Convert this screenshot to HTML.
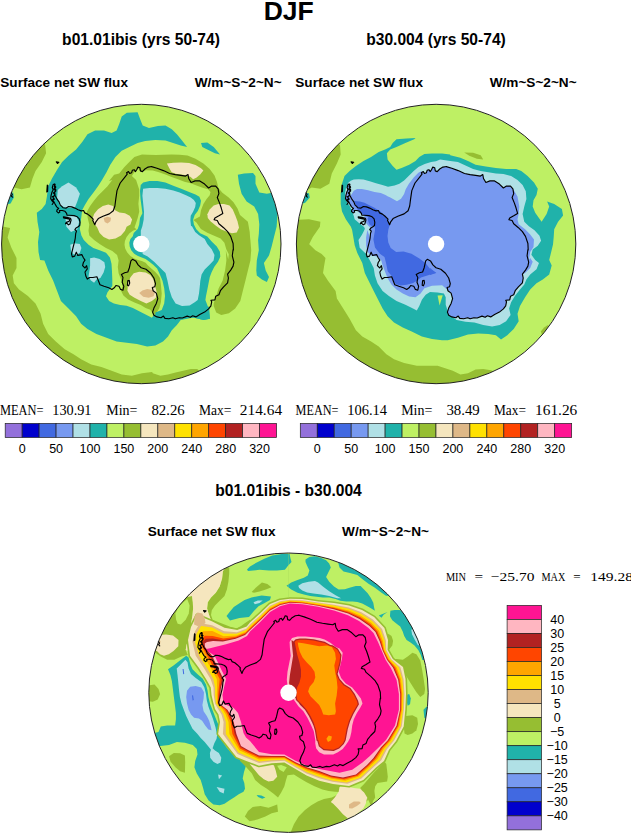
<!DOCTYPE html>
<html><head><meta charset="utf-8"><title>DJF</title>
<style>
html,body{margin:0;padding:0;background:#fff;}
svg{display:block;}
text{font-family:"Liberation Sans",sans-serif;fill:#000;}
.t1{font-weight:bold;font-size:26.5px;}
.t2{font-weight:bold;font-size:15.6px;}
.t3{font-weight:bold;font-size:13.6px;}
.lab{font-size:12.5px;}
.st{font-family:"Liberation Serif",serif;font-size:14.3px;}
.st2{font-family:"Liberation Serif",serif;font-size:12.3px;}
</style></head><body>
<svg width="631" height="834" viewBox="0 0 631 834">
<defs>
<clipPath id="clip1"><circle cx="141.3" cy="244.0" r="139.7"/></clipPath>
<clipPath id="clip2"><circle cx="436.1" cy="244.0" r="139.7"/></clipPath>
<clipPath id="clip3"><circle cx="288.5" cy="692.7" r="139.7"/></clipPath>
<path id="coast" d="M446.3,166.6 451.8,168.2 458.2,170.6 464.5,173.5 470.1,174.6 475.6,175.4 480.4,176.1 482.8,174.6 483.5,178.5 485.9,182.5 489.9,180.9 494.6,180.9 499.4,184.1 503.4,188.0 506.5,186.1 510.5,186.1 512.9,188.8 513.7,193.6 512.1,197.5 514.4,203.1 516.0,207.8 517.6,213.4 513.7,215.8 509.7,218.1 508.9,219.7 512.1,220.5 513.7,223.7 518.4,227.7 522.4,231.6 525.5,236.4 527.9,243.5 528.2,250.0 527.9,249.5 527.1,255.8 528.7,262.2 527.9,266.1 525.5,270.1 522.4,274.1 523.2,278.0 522.4,282.8 518.4,286.8 515.2,290.7 513.7,294.7 510.5,296.3 509.7,299.9 505.7,300.2 506.5,301.8 505.7,305.8 503.4,308.9 499.4,312.1 494.6,314.5 490.7,316.9 487.5,315.8 485.1,317.3 482.0,316.1 477.2,318.0 474.0,317.7 470.1,318.8 467.7,317.7 463.7,318.8 459.8,318.4 458.2,316.1 455.8,317.7 451.8,316.9 448.7,315.3 447.4,312.1 448.7,308.1 451.1,303.4 452.6,298.6 451.1,293.1 447.9,290.7 447.1,287.5 449.5,286.8 450.3,283.6 448.7,278.0 445.5,273.3 440.8,269.3 436.0,267.7 432.9,264.9 430.5,260.9 427.3,259.3 425.7,260.9 424.1,268.0 422.6,272.0 419.4,272.8 416.2,274.4 417.8,277.5 417.0,282.3 418.6,286.3 417.8,290.2 415.4,289.4 413.8,286.3 410.7,285.5 409.1,287.8 406.7,289.4 403.5,287.8 398.8,286.3 394.8,284.7 393.2,280.7 391.7,276.8 387.7,277.5 384.5,277.5 382.1,279.1 380.6,276.0 379.8,272.0 382.1,268.8 381.4,265.7 379.8,268.0 377.4,265.7 378.2,262.5 379.8,260.1 378.2,257.7 376.6,254.6 372.6,255.4 371.1,252.2 369.5,256.1 367.1,256.9 366.3,253.8 367.9,247.4 369.5,241.1 370.1,238.0 370.5,233.5 371.3,231.1 369.7,229.5 370.9,227.9 372.9,226.7 374.5,225.5 374.8,222.4 374.1,218.8 372.1,216.8 368.9,215.6 364.1,215.2 361.8,215.2 361.4,213.3 359.8,211.3 357.0,210.5 354.2,210.5 354.6,212.1 353.1,212.9 351.5,211.3 351.9,209.7 353.5,208.5 351.5,206.9 349.9,204.1 348.7,201.8 346.7,200.6 345.5,198.6 345.9,195.4 346.7,192.3 347.9,189.9 347.1,187.5 347.9,184.7 349.1,183.9 349.9,184.3 349.1,186.7 350.7,189.9 349.5,192.3 349.9,195.4 351.5,198.6 353.8,201.8 355.0,204.9 357.8,207.7 361.0,208.1 363.4,206.5 366.5,206.9 369.7,208.1 372.9,209.7 376.0,210.9 378.4,210.5 379.6,212.9 382.4,214.1 384.8,216.0 388.0,219.2 387.5,220.2 389.6,224.7 390.7,221.8 393.1,218.6 397.8,216.3 404.1,213.9 408.1,210.7 409.7,206.0 410.5,199.6 411.8,190.6 415.0,183.0 419.5,177.3 422.0,174.1 421.4,172.8 423.3,171.6 424.5,173.5 426.4,172.8 427.1,170.3 429.0,169.7 430.2,171.6 431.5,169.7 432.8,167.1 434.7,167.7 435.3,170.9 437.2,171.6 439.7,169.0 442.9,167.1 446.7,166.5 446.3,166.6M358.2,216.8 361.8,217.4 365.3,218.3 365.9,220.0 364.8,224.0 363.2,224.8 361.6,223.2 360.3,223.8 361.0,222.4 364.1,221.2 364.5,219.2 361.8,218.6 358.4,217.9 358.2,216.8M342.1,185.1 341.6,191.9 342.4,191.5 342.6,185.5 342.1,185.1M422.6,280.7 424.1,280.4 424.5,283.1 423.4,285.8 422.2,285.2 422.6,280.7M351.1,161.9 353.7,162.2 352.3,163.5 351.1,161.9M349.3,185.0 350.6,187.0 348.8,189.0 350.6,191.0 348.2,193.0 349.8,195.0 347.6,197.0 349.2,199.0 347.2,200.8M347.2,196.5 348.6,198.5 346.6,200.5 348.4,202.5 347.0,204.5M306.0,193.0 307.1,194.5 306.2,196.0 307.3,197.2" fill="none" stroke="#000" stroke-width="1.15" stroke-linejoin="round" stroke-linecap="round"/>
</defs>
<text x="288.7" y="19.8" class="t1" text-anchor="middle">DJF</text>
<text x="141" y="45.2" class="t2" text-anchor="middle">b01.01ibis (yrs 50-74)</text>
<text x="436" y="45.2" class="t2" text-anchor="middle">b30.004 (yrs 50-74)</text>
<text x="288.5" y="496.3" class="t2" text-anchor="middle">b01.01ibis - b30.004</text>
<text x="0.3" y="87" class="t3">Surface net SW flux</text>
<text x="281.6" y="87" class="t3" text-anchor="end">W/m~S~2~N~</text>
<text x="295.3" y="87" class="t3">Surface net SW flux</text>
<text x="576.6" y="87" class="t3" text-anchor="end">W/m~S~2~N~</text>
<text x="147.8" y="536" class="t3">Surface net SW flux</text>
<text x="429" y="536" class="t3" text-anchor="end">W/m~S~2~N~</text>
<text x="0.0" y="414.6" class="st" textLength="43.5" lengthAdjust="spacingAndGlyphs">MEAN=</text><text x="52.3" y="414.6" class="st" textLength="39.2" lengthAdjust="spacingAndGlyphs">130.91</text><text x="106.3" y="414.6" class="st" textLength="31.1" lengthAdjust="spacingAndGlyphs">Min=</text><text x="151.4" y="414.6" class="st" textLength="33.3" lengthAdjust="spacingAndGlyphs">82.26</text><text x="199.0" y="414.6" class="st" textLength="32.5" lengthAdjust="spacingAndGlyphs">Max=</text><text x="239.8" y="414.6" class="st" textLength="42.3" lengthAdjust="spacingAndGlyphs">214.64</text>
<text x="295.5" y="414.6" class="st" textLength="43.0" lengthAdjust="spacingAndGlyphs">MEAN=</text><text x="347.3" y="414.6" class="st" textLength="39.7" lengthAdjust="spacingAndGlyphs">106.14</text><text x="401.2" y="414.6" class="st" textLength="31.2" lengthAdjust="spacingAndGlyphs">Min=</text><text x="446.4" y="414.6" class="st" textLength="33.4" lengthAdjust="spacingAndGlyphs">38.49</text><text x="494.0" y="414.6" class="st" textLength="32.0" lengthAdjust="spacingAndGlyphs">Max=</text><text x="535.0" y="414.6" class="st" textLength="42.3" lengthAdjust="spacingAndGlyphs">161.26</text>
<text x="445.9" y="580.5" class="st2" textLength="20.1" lengthAdjust="spacingAndGlyphs">MIN</text><text x="474.4" y="580.5" class="st2" textLength="8.6" lengthAdjust="spacingAndGlyphs">=</text><text x="490.9" y="580.5" class="st2" textLength="43.5" lengthAdjust="spacingAndGlyphs">−25.70</text><text x="541.5" y="580.5" class="st2" textLength="23.9" lengthAdjust="spacingAndGlyphs">MAX</text><text x="573.2" y="580.5" class="st2" textLength="7.4" lengthAdjust="spacingAndGlyphs">=</text><text x="590.3" y="580.5" class="st2" textLength="42.7" lengthAdjust="spacingAndGlyphs">149.28</text>
<g clip-path="url(#clip1)"><circle cx="141.3" cy="244.0" r="139.7" fill="#BEF064"/><path d="M33.0,138.0 45.1,144.4 46.1,153.2 41.8,162.1 35.5,171.0 32.5,178.6 29.9,187.5 21.6,189.3 13.9,187.5 10.1,191.3 0.0,191.3 0.0,138.0Z" fill="#96BE32" /><path d="M0.0,225.5 3.8,226.8 10.1,228.1 7.6,237.6 11.4,247.7 16.5,257.9 16.5,268.0 12.7,275.6 13.9,283.2 19.0,289.6 27.9,295.9 35.5,303.5 40.6,313.7 43.1,323.8 48.2,334.0 55.8,341.6 64.7,349.2 73.5,354.2 81.1,359.3 91.3,364.4 101.4,366.9 111.6,370.7 121.7,374.5 131.9,375.8 142.0,373.3 152.1,372.0 152.8,373.3 160.4,375.8 168.0,374.5 175.6,372.5 183.2,370.7 190.9,369.0 197.2,369.0 206.1,377.1 230.0,400.0 -5.0,400.0 -5.0,225.0Z" fill="#96BE32" /><path d="M7.6,193.3 13.2,192.6 13.9,197.6 10.6,203.5 5.1,205.0Z" fill="#20B2AA" /><path d="M187.1,146.9 182.0,140.6 176.9,134.2 171.8,129.2 165.5,125.4 157.9,125.9 149.0,127.9 142.7,125.4 140.1,119.0 137.6,112.2 126.8,112.7 121.7,116.5 119.2,124.1 116.6,130.4 111.6,133.0 104.0,130.4 95.1,130.4 87.5,134.2 82.4,141.8 76.1,149.4 68.5,155.8 62.1,162.1 57.1,169.7 52.0,178.6 48.2,186.2 46.9,196.4 45.6,204.0 41.8,209.0 36.8,212.8 37.5,221.7 39.3,231.9 38.0,242.0 38.5,252.1 40.1,260.0 44.4,260.4 48.2,270.6 53.2,280.7 57.1,290.9 60.9,301.0 68.5,308.6 76.1,316.2 81.1,323.8 87.5,328.9 96.4,334.0 106.5,337.8 116.6,341.6 126.8,342.8 136.9,344.1 147.1,346.6 155.4,345.4 163.0,341.6 168.0,336.5 171.8,330.2 176.9,325.1 180.7,320.0 193.4,317.5 203.5,320.0 209.9,318.7 209.1,306.1 180.7,306.1 157.9,309.9 151.9,317.7 145.6,314.5 139.2,311.3 132.9,308.1 126.6,305.8 120.2,305.0 113.9,303.4 109.1,301.0 106.0,296.3 107.5,292.3 112.3,286.0 112.3,279.6 112.0,271.7 111.5,263.8 109.9,257.4 106.0,252.7 99.6,250.3 93.3,247.9 88.5,244.8 83.8,240.0 81.4,235.5 79.8,229.1 80.6,222.8 81.4,216.5 82.2,210.1 84.6,205.4 88.5,199.0 93.3,192.7 98.0,186.3 102.0,180.0 106.5,172.3 110.3,164.7 115.4,157.1 121.7,150.7 129.3,146.9 137.6,143.1 145.2,141.1 155.4,140.1 165.5,140.6 173.1,143.1 180.7,145.6Z" fill="#20B2AA" /><path d="M201.0,143.1 207.3,142.6 213.7,146.9 220.0,154.5 214.9,153.2 207.3,149.4 202.3,146.9Z" fill="#20B2AA" /><path d="M237.8,174.8 244.1,173.5 253.0,173.0 255.5,176.1 255.5,183.7 259.3,192.6 266.9,193.8 273.3,192.6 276.6,201.4 277.6,214.1 276.6,226.8 274.0,236.9 271.5,247.1 269.0,255.4 263.9,263.0 265.7,270.6 269.0,276.9 266.9,282.0 261.9,279.4 256.8,275.6 256.3,270.6 256.8,260.4 258.8,250.3 258.1,240.1 259.3,230.0 258.1,244.5 258.8,234.4 259.3,224.2 258.1,214.1 254.2,206.5 246.6,201.4 241.6,193.8 239.0,183.7Z" fill="#20B2AA" /><path d="M153.5,314.5 150.3,309.7 145.6,308.1 140.8,305.0 134.5,302.6 128.1,299.4 123.4,295.5 121.0,290.7 122.6,286.0 121.0,279.6 118.6,273.3 117.8,266.9 118.6,260.6 117.1,255.1 112.3,251.1 106.0,247.9 99.6,244.0 94.1,240.0 89.3,235.5 88.5,230.7 89.3,224.4 87.7,218.0 86.9,211.7 90.1,206.1 94.1,200.6 98.0,195.8 102.8,191.1 107.5,186.3 112.3,180.0 109.0,181.1 114.1,174.8 119.2,173.5 124.2,167.2 129.3,162.1 134.4,157.1 142.0,154.5 147.9,154.8 155.8,155.1 163.8,154.8 171.7,154.4 179.6,154.8 187.5,155.5 195.5,158.7 203.4,163.5 209.7,169.0 214.5,175.4 216.9,181.7 218.4,188.0 222.4,192.8 228.7,197.5 233.5,202.3 237.5,208.6 240.0,215.0 247.9,221.7 249.7,231.9 250.4,242.0 249.7,252.1 249.2,260.0 249.2,230.0 250.4,240.1 251.2,250.3 250.4,260.4 247.9,270.6 245.4,280.7 242.8,290.9 240.3,301.0 235.2,308.6 228.9,313.2 221.3,314.9 216.2,312.4 213.7,306.1Z" fill="#96BE32" /><path d="M213.7,306.1 213.7,303.5 216.2,295.9 218.7,288.3 222.6,280.7 225.1,270.6 226.4,260.4 225.8,250.3 228.2,259.3 228.8,254.2 226.3,249.2 224.4,242.8 220.6,238.4 213.0,235.2 207.3,232.7 200.9,228.9 196.5,222.5 193.3,220.0 199.9,216.6 201.0,210.2 203.4,203.9 206.6,199.1 209.7,195.2 210.5,192.0 208.1,189.3 203.4,188.0 197.1,185.7 190.7,183.3 184.4,181.7 178.0,179.3 171.7,176.9 165.4,174.6 159.0,172.2 152.7,170.6 146.3,170.3 140.0,171.4 138.2,168.5 134.4,172.3 131.9,176.1 136.1,180.0 139.2,189.5 139.2,195.8 138.4,203.8 139.2,211.7 137.7,218.0 136.1,222.8 134.5,227.5 136.6,229.5 133.3,230.5 129.5,233.3 126.6,237.1 124.9,240.9 124.5,244.7 125.2,248.5 127.1,252.3 130.4,256.1 134.2,258.5 138.0,259.9 141.8,260.9 145.6,262.8 148.0,265.6 151.3,268.5 155.1,271.8 158.0,275.1 160.0,278.0 160.9,284.5 161.7,293.4 160.9,302.3 159.2,308.6 156.6,312.4Z" fill="#BEF064" /><path d="M140.0,185.7 143.2,182.5 149.5,180.9 157.4,180.9 165.4,182.5 173.3,185.7 181.2,188.8 189.1,192.0 195.5,194.4 199.4,196.8 201.0,200.7 200.2,205.5 197.8,211.0 194.7,215.0 193.1,219.7 193.9,224.5 196.3,229.2 200.2,233.2 207.3,236.5 211.7,241.6 216.8,246.6 219.9,251.7 220.3,256.8 218.0,261.8 214.2,266.9 211.7,272.0 209.8,277.1 208.5,283.4 207.3,289.7 206.0,296.1 205.4,300.0 208.6,308.6 209.9,318.7 203.5,320.0 193.4,317.5 180.7,318.7 170.6,319.3 163.0,317.5 155.4,313.7 155.4,312.4 161.7,309.9 164.2,303.5 165.0,295.9 164.2,288.3 162.5,280.7 159.2,273.1 157.1,268.5 153.2,264.7 149.4,261.8 145.6,259.0 141.8,257.6 138.0,256.1 134.2,253.8 131.4,250.4 129.7,246.6 129.3,242.8 130.4,239.0 132.8,236.2 133.7,233.1 137.7,229.1 139.2,224.4 140.0,218.0 142.4,213.3 141.6,206.9 140.5,199.0 140.0,191.1 140.8,184.8Z" fill="#20B2AA" /><path d="M143.2,188.8 149.5,188.0 157.4,188.0 165.4,188.8 173.3,190.4 179.6,192.5 186.0,195.2 190.7,197.5 193.9,199.9 195.8,203.1 195.2,207.1 193.1,211.8 190.7,215.8 190.4,220.5 191.0,226.1 192.0,226.3 195.2,232.0 199.0,235.2 204.7,239.0 207.3,244.1 211.7,249.2 214.5,254.9 213.6,260.6 209.8,264.4 204.7,269.4 201.6,274.5 200.3,280.9 199.7,287.2 199.0,293.5 197.7,300.0 194.7,302.3 189.6,305.6 182.0,306.1 175.6,303.5 171.8,297.2 169.3,289.6 167.5,280.7 165.5,273.1 160.4,268.0 154.1,261.7 147.7,256.6 142.7,254.1 140.9,243.9 140.8,230.7 142.4,226.0 143.7,219.6 144.0,211.7 143.2,203.8 142.4,195.8 143.2,187.9Z" fill="#B0E0E6" /><path d="M92.5,218.8 94.1,214.1 98.0,209.3 102.8,206.1 108.3,204.6 113.1,206.1 114.7,210.1 119.4,212.5 125.0,213.3 129.7,215.7 132.1,219.6 130.5,224.4 126.6,226.8 125.0,230.7 121.0,235.5 115.5,238.6 109.1,239.4 103.6,237.1 99.6,233.1 97.2,227.5 94.1,223.6Z" fill="#F5E6BE" /><path d="M103.6,218.0 107.5,216.8 111.0,217.7 110.4,221.2 107.5,223.6 104.7,222.0Z" fill="#DEB887" /><path d="M127.4,290.7 128.1,282.8 130.5,277.2 133.7,273.3 139.2,271.7 145.6,272.5 150.3,274.9 153.5,279.6 155.1,286.0 156.7,292.3 155.9,297.8 151.9,301.0 146.4,303.4 140.8,301.0 134.5,297.8 129.7,294.7Z" fill="#F5E6BE" /><path d="M139.2,293.1 142.4,290.4 147.2,289.1 152.7,289.9 154.8,293.1 153.5,296.3 148.7,297.8 143.2,296.7Z" fill="#DEB887" /><path d="M166.9,163.5 173.3,162.7 181.2,162.4 189.1,163.0 195.5,165.1 201.0,168.2 203.4,170.6 200.2,174.6 196.3,177.7 193.1,179.3 190.7,176.9 187.5,175.4 181.2,174.6 175.7,173.8 171.7,172.2 169.3,168.2Z" fill="#F5E6BE" /><path d="M207.4,214.2 209.7,209.4 213.7,205.5 218.4,203.9 224.0,203.9 229.5,205.5 232.7,209.4 235.1,215.0 237.5,221.3 239.0,227.7 236.7,232.4 231.9,233.2 226.4,231.6 220.8,229.2 215.3,225.3 210.5,221.3 207.8,218.1Z" fill="#F5E6BE" /><path d="M62.1,186.2 68.5,182.4 76.1,187.5 79.9,193.8 77.3,201.4 74.8,207.8 65.9,207.8 59.6,205.2 57.1,197.6 57.8,190.0Z" fill="#B0E0E6" /><path d="M65.4,216.6 76.1,216.1 79.1,221.7 77.3,229.3 71.0,231.9 66.4,226.8Z" fill="#B0E0E6" /><path d="M70.3,244.8 74.3,243.2 79.8,244.0 81.4,247.9 79.8,252.7 76.6,255.1 73.5,254.3 71.1,251.1Z" fill="#B0E0E6" /><path d="M90.1,258.2 94.1,257.4 99.6,259.0 104.4,262.2 105.2,266.9 103.6,272.5 100.4,278.0 96.5,279.6 94.1,282.8 90.9,280.4 88.5,276.5 89.3,271.7 90.1,265.4Z" fill="#B0E0E6" /></g><use href="#coast" transform="translate(-294.8,0)"/><circle cx="141.3" cy="244.0" r="8.2" fill="#fff"/><circle cx="141.3" cy="244.0" r="139.7" fill="none" stroke="#222" stroke-width="1"/>
<g clip-path="url(#clip2)"><circle cx="436.1" cy="244.0" r="139.7" fill="#BEF064"/><path d="M328.0,138.0 340.0,145.1 340.7,154.5 336.9,163.4 331.8,173.5 329.3,183.7 320.4,188.7 311.6,187.5 305.2,191.3 290.0,191.3 290.0,138.0Z" fill="#96BE32" /><path d="M290.0,219.2 298.9,219.7 309.0,219.2 320.4,221.7 319.9,226.8 312.8,236.9 309.0,244.5 309.0,243.9 315.4,250.3 321.7,254.1 325.5,257.9 324.2,265.5 323.0,273.1 328.0,280.7 335.6,290.9 336.9,298.5 343.2,308.6 349.6,318.7 355.9,330.2 362.3,336.5 371.1,341.6 378.7,346.6 386.4,354.2 394.0,359.3 404.1,363.1 416.8,365.7 429.5,365.7 437.6,365.7 445.2,368.2 452.8,370.7 460.4,374.5 468.0,373.3 475.6,369.5 483.2,369.0 490.9,370.2 496.4,372.5 506.1,382.1 520.0,400.0 290.0,400.0 280.0,219.0Z" fill="#96BE32" /><path d="M464.2,152.5 473.1,152.7 480.7,155.3 483.2,159.6 476.9,158.8 469.3,155.8Z" fill="#96BE32" /><path d="M540.8,331.4 544.1,327.6 547.9,325.1 551.7,331.4 542.8,336.5Z" fill="#96BE32" /><path d="M302.7,192.6 309.0,193.3 309.8,197.6 305.2,202.7 300.1,204.5Z" fill="#20B2AA" /><path d="M350.9,226.8 345.8,219.2 342.0,211.6 340.7,204.0 340.7,193.8 342.0,183.7 344.5,176.1 349.6,171.0 355.9,165.9 363.5,160.9 371.1,157.1 378.7,152.0 385.1,149.4 390.2,146.9 392.7,143.1 396.5,139.3 406.6,138.5 415.5,138.0 414.2,139.3 405.4,143.1 396.5,146.9 390.2,149.4 386.9,153.2 387.6,159.6 392.7,165.9 396.5,169.7 401.6,168.0 409.2,164.7 415.5,160.9 419.3,157.1 424.4,154.0 432.0,153.5 442.1,153.5 450.0,154.5 450.3,155.3 460.4,157.8 468.0,160.9 475.6,164.7 485.8,166.4 495.9,168.0 506.1,169.0 516.2,169.0 521.3,171.0 527.6,176.1 534.0,182.4 537.8,188.7 536.5,195.1 533.5,200.2 532.7,206.5 535.2,212.8 541.6,221.7 546.6,214.1 549.2,206.5 547.1,201.4 554.2,204.0 561.9,209.0 563.1,215.4 558.1,221.7 554.2,229.3 553.7,236.9 553.0,244.5 551.2,252.1 549.2,260.0 551.7,265.5 549.2,274.4 542.8,279.4 536.5,283.2 530.2,289.6 525.1,297.2 520.0,306.1 517.5,313.7 518.7,321.3 513.7,328.9 507.3,335.2 501.0,339.5 495.9,335.2 488.3,334.0 478.2,333.5 468.0,334.5 457.9,337.8 447.7,340.3 442.1,340.3 432.0,339.0 421.9,336.5 411.7,331.4 402.8,327.6 394.0,322.6 387.6,316.2 382.6,308.6 377.5,298.5 373.7,290.9 368.6,280.7 364.8,273.1 362.3,263.0 357.2,252.8 354.7,245.2 353.4,237.6 352.1,230.0Z" fill="#20B2AA" /><path d="M361.8,235.1 363.4,231.9 364.9,228.7 364.1,227.1 361.0,224.8 357.8,222.0 354.6,219.2 353.8,216.0 352.3,212.1 350.7,208.1 349.1,204.9 346.7,201.8 345.1,198.6 345.0,193.8 345.9,188.3 348.3,182.8 350.7,180.8 353.8,179.6 358.6,179.2 363.4,179.6 369.7,181.2 376.0,183.2 382.4,185.1 388.0,186.7 394.6,185.4 399.4,183.8 404.1,180.6 408.9,175.8 413.7,171.1 418.4,167.1 424.7,164.0 431.1,161.9 436.0,161.3 440.1,159.6 450.3,160.9 457.9,162.1 465.5,165.4 473.1,169.0 480.7,171.0 488.3,172.3 495.9,173.5 503.5,174.0 511.1,176.1 517.5,179.9 522.6,184.9 525.8,191.3 526.4,198.9 524.3,206.5 522.6,214.1 524.3,221.7 528.9,226.3 534.5,230.3 539.5,235.7 541.1,240.7 537.8,245.8 532.7,249.6 531.4,254.7 535.2,260.0 539.0,263.0 536.5,269.3 530.2,274.4 526.4,279.4 524.3,284.5 520.0,289.6 514.9,295.9 511.1,302.3 509.1,308.6 510.6,314.9 506.1,321.3 499.7,325.1 492.1,326.4 483.2,325.1 474.4,322.6 465.5,321.8 456.6,320.0 451.6,316.2 447.7,311.1 445.7,304.8 445.7,297.2 443.9,293.4 437.6,292.4 430.0,291.9 425.7,294.7 421.9,299.7 419.3,306.1 416.8,310.6 413.0,308.6 405.4,304.8 396.5,301.0 388.9,295.9 382.6,290.9 377.5,283.2 374.9,275.6 373.7,268.0 369.9,260.4 366.1,254.1 359.7,247.7 358.5,240.1Z" fill="#B0E0E6" /><path d="M370.1,238.0 370.5,233.5 371.3,231.1 369.7,229.5 370.9,227.9 372.9,226.7 374.5,225.5 374.8,222.4 374.1,218.8 372.1,216.8 368.9,215.6 364.1,215.2 361.8,215.2 361.4,213.3 359.8,211.3 357.0,210.5 354.2,210.5 354.6,212.1 353.1,212.9 351.5,211.3 351.9,209.7 353.5,208.5 351.5,206.9 349.9,204.1 348.7,201.8 346.7,200.6 345.5,198.6 345.9,195.4 346.7,192.3 347.9,189.9 347.1,187.5 347.9,184.7 349.1,183.9 349.9,184.3 349.1,186.7 350.7,189.9 349.5,192.3 349.9,195.4 351.1,195.0 353.8,190.7 357.0,189.1 361.8,189.1 368.1,190.3 374.5,191.9 380.8,193.1 385.5,195.0 388.0,196.6 389.9,197.2 397.0,201.2 401.0,198.8 404.1,194.1 405.7,189.3 408.9,183.8 413.7,177.4 418.4,172.7 421.6,171.1 422.0,174.1 421.4,172.8 423.3,171.6 424.5,173.5 426.4,172.8 427.1,170.3 429.0,169.7 430.2,171.6 431.5,169.7 432.8,167.1 434.7,167.7 435.3,170.9 437.2,171.6 439.7,169.0 442.9,167.1 446.7,166.5 446.3,166.6 451.8,168.2 458.2,170.6 464.5,173.5 470.1,174.6 475.6,175.4 480.4,176.1 482.8,174.6 483.5,178.5 485.9,182.5 489.9,180.9 494.6,180.9 499.4,184.1 503.4,188.0 506.5,186.1 510.5,186.1 512.9,188.8 517.5,196.4 519.3,206.5 518.7,214.1 517.5,219.2 518.7,224.2 525.1,229.3 530.2,234.4 534.0,239.5 533.5,247.1 530.2,252.1 528.9,260.0 530.2,257.9 532.7,261.7 530.2,268.0 525.1,273.1 522.4,274.1 523.2,278.0 522.4,282.8 518.4,286.8 515.2,290.7 513.7,294.7 510.5,296.3 509.7,299.9 505.7,300.2 506.5,301.8 505.7,305.8 503.4,308.9 499.4,312.1 494.6,314.5 490.7,316.9 487.5,315.8 485.1,317.3 482.0,316.1 477.2,318.0 474.0,317.7 470.1,318.8 467.7,317.7 463.7,318.8 459.8,318.4 458.2,316.1 455.8,317.7 451.8,316.9 448.7,315.3 447.4,312.1 448.7,308.1 451.1,303.4 452.6,298.6 451.1,293.1 442.1,285.3 432.0,285.8 424.4,288.3 420.6,293.4 415.5,297.2 409.2,296.4 402.8,293.4 396.5,289.6 391.4,284.5 387.6,278.2 385.1,271.8 382.6,265.5 381.3,260.4 377.5,256.6 371.1,255.4 367.3,251.6 366.1,245.2 366.1,237.6 367.3,230.0Z" fill="#7799F0" /><path d="M364.1,215.6 368.9,215.9 372.9,216.8 374.8,220.0 374.8,225.5 372.9,227.0 370.5,227.8 368.1,225.5 365.7,222.4 364.9,219.2Z" fill="#7799F0" /><path d="M354.2,200.9 359.8,201.5 364.5,202.8 369.3,205.2 374.0,207.5 378.0,209.9 380.4,211.5 383.5,214.7 387.5,219.4 389.9,224.2 388.3,229.7 387.5,236.1 388.3,242.4 390.7,248.0 396.2,251.9 403.5,251.4 411.5,253.8 419.4,258.5 425.7,263.3 430.5,269.6 436.0,272.8 430.5,274.4 425.7,276.0 421.0,277.5 417.0,280.7 413.1,283.1 406.7,284.7 400.4,285.5 395.6,283.9 393.2,280.7 391.7,276.0 387.7,271.2 386.1,263.3 384.5,256.9 379.8,253.8 375.0,247.4 373.4,239.5 375.0,230.0 374.5,223.4 373.2,219.4 370.1,217.4 366.1,216.3 359.0,212.6 356.6,207.5Z" fill="#4169E1" /><path d="M368.5,217.0 372.1,217.4 374.1,219.2 374.6,222.4 374.1,225.5 372.1,226.3 369.7,224.8 368.3,221.6 367.6,218.8Z" fill="#4169E1" /><path d="M430.0,268.0 436.3,273.1 430.0,275.1Z" fill="#4169E1" /><path d="M437.6,295.4 442.7,295.2 439.6,305.6Z" fill="#BEF064" /></g><use href="#coast" transform="translate(0,0)"/><circle cx="436.1" cy="244.0" r="8.2" fill="#fff"/><circle cx="436.1" cy="244.0" r="139.7" fill="none" stroke="#222" stroke-width="1"/>
<g clip-path="url(#clip3)"><circle cx="288.5" cy="692.7" r="139.7" fill="#BEF064"/><path d="M247.0,569.5 250.0,566.6 256.3,562.7 264.3,558.7 272.2,555.5 281.7,554.0 289.6,554.0 290.4,557.9 291.5,561.9 288.0,565.8 284.9,569.8 276.9,570.6 269.0,570.6 259.5,569.8 253.2,570.6 248.0,571.0Z" fill="#20B2AA" /><path d="M305.5,559.5 309.4,557.1 315.0,556.3 321.3,557.9 326.1,560.3 329.2,563.5 330.8,567.4 328.4,572.2 326.1,576.9 329.2,581.7 334.0,586.5 338.7,589.6 344.8,589.2 349.5,587.7 355.8,586.1 360.6,586.1 363.8,589.3 367.7,593.3 370.9,598.0 373.3,602.8 374.1,607.5 374.9,610.7 370.9,608.3 366.9,606.0 362.2,603.6 357.4,602.0 352.7,601.5 346.3,601.5 340.3,600.7 335.6,599.1 329.2,597.5 322.9,597.5 316.6,596.8 310.2,596.0 303.9,594.4 297.5,592.8 291.2,589.6 286.5,585.7 291.2,582.5 297.5,580.1 303.9,577.7 307.8,575.4 309.4,570.6 307.1,565.8 305.5,561.9Z" fill="#20B2AA" /><path d="M298.3,585.7 302.3,583.3 308.6,581.7 315.0,580.9 318.1,582.5 322.9,586.5 329.2,591.2 335.6,595.2 341.1,598.3 337.2,598.3 329.2,596.0 321.3,594.4 313.4,593.6 307.1,592.5 302.3,590.4 299.1,588.0Z" fill="#B0E0E6" /><path d="M338.0,562.0 339.5,567.4 343.5,571.4 350.0,573.0 357.4,575.1 362.2,579.0 368.5,583.8 374.9,587.7 381.2,592.5 386.0,595.7 392.0,596.0 380.0,580.0 360.0,565.0 340.0,555.0Z" fill="#20B2AA" /><path d="M390.4,610.7 394.7,609.9 399.4,609.9 405.0,612.0 425.0,640.0 430.0,660.0 422.4,660.0 420.8,655.1 418.4,650.3 414.5,645.6 410.5,642.4 406.6,640.0 404.2,636.1 402.6,631.3 400.2,626.6 396.3,623.4 392.3,620.2 389.9,616.3Z" fill="#20B2AA" /><path d="M411.3,629.7 412.1,634.5 414.5,639.2 417.7,644.8 421.0,647.0 419.0,636.0 414.5,627.5Z" fill="#B0E0E6" /><path d="M378.8,615.5 387.5,612.0 383.6,614.7 381.5,617.8Z" fill="#20B2AA" /><path d="M226.5,616.0 230.0,611.4 233.8,607.0 239.5,603.2 244.6,600.0 251.5,597.5 261.6,595.5 271.0,596.5 270.0,600.0 264.2,603.2 258.5,606.3 253.5,611.4 249.0,617.1 239.5,618.1 230.0,620.6Z" fill="#20B2AA" /><path d="M253.5,602.3 257.9,600.4 262.7,600.4 259.5,603.1 254.8,604.2Z" fill="#B0E0E6" /><path d="M186.2,655.8 188.6,657.4 190.2,663.8 192.5,669.3 197.3,674.1 202.8,678.8 206.0,684.4 207.6,690.7 208.4,697.1 210.0,703.4 212.4,709.7 215.5,717.7 218.7,725.6 221.1,733.5 222.1,740.3 226.1,746.7 230.8,752.2 236.4,757.0 241.9,760.1 246.5,763.5 245.5,767.3 244.0,772.0 242.7,778.4 244.3,783.1 245.0,788.7 243.5,791.8 238.7,794.2 234.0,797.4 229.2,800.6 224.5,803.7 219.7,805.3 213.4,804.5 208.6,800.6 204.7,794.2 203.1,787.9 200.7,780.0 196.8,773.6 194.4,767.3 195.2,760.9 197.5,754.6 196.8,749.1 192.8,745.1 184.9,742.7 176.9,741.9 169.0,745.1 160.3,745.9 150.0,748.0 146.0,735.0 158.5,731.9 160.8,726.4 167.2,725.6 175.1,725.6 175.9,719.2 175.9,712.9 175.1,706.6 174.3,700.2 173.5,693.9 172.7,687.5 171.9,681.2 170.4,674.9 168.0,669.3 173.5,665.4 179.9,660.6Z" fill="#20B2AA" /><path d="M176.7,668.5 181.5,663.8 185.4,659.8 187.5,662.2 188.6,668.5 191.0,674.1 195.7,678.0 201.3,682.0 204.4,687.5 206.0,693.9 206.8,700.2 208.4,706.6 210.8,712.9 213.1,719.2 215.5,727.2 217.1,735.1 216.6,738.8 214.2,743.5 212.6,748.3 215.0,750.6 218.9,753.0 221.3,757.8 220.5,762.5 217.4,764.1 213.4,761.7 210.2,757.8 209.9,753.0 211.0,749.8 208.6,746.7 204.7,741.9 200.7,738.0 197.5,734.0 192.5,728.7 189.4,722.4 186.2,716.1 183.8,709.7 181.5,703.4 179.9,697.1 179.1,690.7 178.3,682.8 177.5,674.9Z" fill="#B0E0E6" /><path d="M187.0,690.7 190.2,686.8 195.7,686.0 201.3,687.5 204.0,692.3 203.6,698.6 202.4,705.0 203.6,711.3 206.8,716.1 209.2,720.8 210.8,726.4 211.6,730.3 208.4,729.5 205.2,725.6 202.1,720.8 198.9,718.4 194.1,717.7 191.0,714.5 188.6,709.7 187.0,703.4 186.2,697.1Z" fill="#7799F0" /><path d="M182.6,669.0 183.6,669.0 184.2,674.0 183.2,674.3Z" fill="#4169E1" /><path d="M192.0,695.5 193.0,695.3 193.8,700.0 192.6,700.4Z" fill="#4169E1" /><path d="M218.1,774.4 222.1,775.5 218.9,779.2Z" fill="#B0E0E6" /><path d="M216.6,787.1 224.5,788.7 223.7,793.4 219.7,791.8Z" fill="#B0E0E6" /><path d="M256.6,795.0 261.4,795.5 265.4,797.4 262.2,798.7 258.2,797.1Z" fill="#20B2AA" /><path d="M406.9,694.7 409.2,693.9 410.8,698.6 410.0,704.2 407.7,705.8 406.5,701.0Z" fill="#20B2AA" /><path d="M423.5,709.7 426.7,706.6 430.0,706.0 430.0,720.0 427.0,719.2 424.3,717.7Z" fill="#20B2AA" /><path d="M222.9,565.0 229.2,568.0 229.2,573.8 228.4,581.7 226.9,589.6 224.5,596.0 219.7,600.7 215.0,605.5 211.8,610.2 211.0,615.0 212.6,619.7 218.1,622.1 224.5,624.5 230.8,626.9 236.4,628.4 241.1,626.1 245.1,622.9 250.0,619.7 250.0,627.0 246.7,628.5 237.2,632.0 224.5,629.7 211.8,623.3 210.2,618.1 208.6,613.4 207.1,608.6 207.8,602.3 211.0,597.5 215.8,592.8 219.7,586.5 222.1,578.5 222.9,571.4Z" fill="#96BE32" /><path d="M188.0,596.8 192.0,596.0 192.8,602.3 193.1,608.6 192.5,615.0 191.5,621.3 190.9,627.7 190.4,634.0 188.0,640.3 186.5,645.1 185.7,650.0 187.8,655.1 181.5,656.6 174.3,659.8 167.2,659.8 160.8,656.6 155.3,652.7 148.0,655.0 140.0,620.0 180.0,590.0Z" fill="#96BE32" /><path d="M176.1,619.7 175.4,613.4 178.5,607.1 183.3,602.3 187.2,599.1 189.6,605.5 188.8,613.4 185.7,619.7 180.9,624.5 177.7,623.7Z" fill="#BEF064" /><path d="M155.0,636.0 159.5,635.0 166.0,634.5 173.0,635.5 178.5,640.0 178.3,646.3 173.5,651.1 168.8,654.3 164.0,655.8 160.1,654.3 156.9,651.1 150.0,650.0 148.0,638.0Z" fill="#F5E6BE" /><path d="M158.5,640.5 160.5,641.0 160.0,644.5 158.0,644.0Z" fill="#DEB887" /><path d="M146.0,686.0 154.5,684.4 158.5,689.1 160.1,693.9 157.7,699.4 152.9,701.8 146.0,701.0Z" fill="#96BE32" /><path d="M169.0,756.2 173.8,753.0 180.1,753.3 184.9,755.4 185.2,762.5 184.9,772.8 180.1,771.2 175.4,767.3 170.6,761.7Z" fill="#96BE32" /><path d="M240.0,755.0 240.0,760.9 246.3,767.3 251.9,773.6 255.1,780.0 260.6,784.7 266.9,788.7 273.3,793.4 278.0,797.4 281.2,792.6 284.4,786.3 286.0,780.0 287.5,775.2 293.9,774.4 300.2,778.4 306.6,782.3 314.5,786.3 322.4,789.5 328.7,791.1 335.1,791.8 340.0,792.0 340.0,770.0 290.0,750.0Z" fill="#96BE32" /><path d="M277.2,765.7 281.2,764.9 286.8,767.3 283.6,772.0 279.6,769.7Z" fill="#BEF064" /><path d="M244.8,816.4 248.0,811.0 252.7,806.9 260.6,806.1 268.5,807.7 277.2,804.5 278.0,811.7 271.7,813.2 265.4,816.4 257.4,819.6 249.5,821.2Z" fill="#96BE32" /><path d="M290.7,836.0 290.7,832.3 293.9,824.3 298.6,816.4 305.0,810.1 311.3,805.3 317.7,801.4 324.0,799.0 331.9,797.4 338.3,794.2 340.0,793.0 340.0,788.0 345.0,788.0 365.0,790.0 368.0,800.0 346.6,818.8 339.5,822.0 332.0,828.0 320.0,840.0Z" fill="#96BE32" /><path d="M360.1,787.9 364.1,783.9 368.8,778.4 374.4,772.0 380.7,765.7 384.7,761.7 386.3,764.1 387.1,770.5 387.8,776.8 387.1,781.5 382.3,782.3 377.5,783.1 375.2,786.3 374.4,791.1 375.2,797.4 372.8,801.4 372.0,808.0 367.2,797.4 364.1,792.6Z" fill="#96BE32" /><path d="M390.2,659.8 396.6,659.0 402.9,659.8 407.7,656.6 412.4,652.7 416.4,654.3 420.3,660.6 421.9,668.5 423.5,678.0 425.1,689.1 424.3,693.9 420.3,697.1 416.4,692.3 412.4,686.0 408.4,679.6 404.5,673.3 399.7,667.7 393.4,663.8Z" fill="#96BE32" /><path d="M406.1,716.1 412.4,715.3 417.2,717.7 418.0,724.0 416.4,730.3 412.4,733.5 407.7,735.1 404.5,733.5 403.7,725.6 404.5,719.2Z" fill="#96BE32" /><path d="M388.3,633.7 391.5,636.1 393.1,640.8 392.3,645.6 389.1,649.5 387.5,653.5 385.0,648.0 386.0,640.0Z" fill="#96BE32" /><path d="M251.6,592.0 256.3,587.2 261.9,582.5 267.4,584.1 271.4,587.2 265.8,589.6 259.5,591.5 254.0,592.8Z" fill="#96BE32" /><path d="M188.0,596.8 180.0,590.0 215.0,555.0 224.5,569.0 222.9,571.4 222.1,578.5 219.7,586.5 215.8,592.8 211.0,597.5 207.8,602.3 207.1,608.6 208.6,613.4 210.2,618.1 211.8,621.3 205.0,625.0 200.0,640.0 200.0,655.0 185.7,650.0 186.5,645.1 188.0,640.3 190.4,634.0 190.9,627.7 191.5,621.3 192.5,615.0 193.1,608.6 192.8,602.3 192.0,596.0Z" fill="#F5E6BE" /><path d="M246.3,759.4 251.1,765.7 255.1,770.5 259.0,775.2 263.8,779.2 268.5,781.5 273.3,780.8 277.2,776.8 275.7,770.5 274.1,765.7 271.7,763.3 265.0,760.0 255.0,755.0Z" fill="#F5E6BE" /><path d="M339.5,787.1 345.8,786.3 353.8,787.9 360.1,788.7 364.1,792.6 367.2,797.4 365.7,803.7 363.3,808.5 357.7,813.2 352.2,817.2 347.4,818.0 342.7,814.0 337.9,808.5 333.2,803.7 330.8,802.1 334.8,797.4 338.7,791.8Z" fill="#F5E6BE" /><path d="M349.0,804.5 353.8,801.4 359.3,801.4 360.9,802.9 356.9,806.1 352.2,808.5 349.0,808.2Z" fill="#DEB887" /><path d="M290.0,597.2 289.8,597.2 279.8,598.4 279.4,598.5 269.4,602.5 268.9,602.8 258.9,612.4 248.9,621.4 248.8,621.6 245.8,625.1 237.1,628.3 225.0,626.2 212.5,619.9 212.4,619.8 197.6,613.5 197.0,613.4 196.4,613.5 195.9,613.8 195.6,614.3 189.6,626.3 189.4,626.6 186.4,639.6 186.4,640.2 188.4,656.0 188.7,656.7 197.7,668.9 204.6,679.8 209.2,688.0 209.9,695.1 209.9,695.4 211.9,703.8 212.0,703.8 213.5,709.4 213.7,709.9 217.0,715.1 218.4,722.0 216.5,733.7 216.6,734.4 216.8,735.0 235.1,758.0 235.8,758.5 245.7,762.4 245.7,762.4 258.4,767.2 259.3,767.3 271.9,764.9 284.0,764.1 305.8,776.9 306.0,777.0 318.6,782.3 318.8,782.4 332.6,785.6 332.8,785.6 348.8,787.6 349.6,787.5 363.9,781.5 364.4,781.1 377.1,768.7 385.0,762.2 385.5,761.7 390.4,750.6 397.3,742.0 397.4,741.8 405.1,727.3 405.3,726.7 406.9,709.9 406.9,709.8 407.6,694.0 407.6,693.8 407.1,678.9 407.1,678.7 404.6,666.7 404.4,666.2 404.0,665.7 394.0,657.9 389.2,649.6 389.6,640.1 389.5,639.5 385.9,627.5 385.6,626.9 375.3,616.0 374.9,615.7 362.8,608.6 362.5,608.5 349.5,604.0 349.3,603.9 334.3,601.5 334.2,601.5 318.3,599.9 302.5,597.5 302.3,597.5 290.0,597.2Z" fill="#96BE32" /><path d="M290.0,598.8 302.3,599.1 318.1,601.5 334.0,603.1 349.0,605.5 362.0,610.0 374.1,617.1 384.4,628.0 388.0,640.0 387.6,650.0 392.8,659.0 403.0,667.0 405.5,679.0 406.0,693.9 405.3,709.7 403.7,726.5 396.0,741.0 389.0,749.8 384.0,761.0 376.0,767.5 363.3,780.0 349.0,786.0 333.0,784.0 319.2,780.8 306.6,775.5 295.5,769.0 284.4,762.5 271.7,763.3 259.0,765.7 246.3,760.9 236.4,757.0 218.1,734.0 220.0,722.0 218.5,714.5 215.0,709.0 213.5,703.4 211.5,695.0 210.8,687.5 206.0,679.0 199.0,668.0 190.0,655.8 188.0,640.0 191.0,627.0 197.0,615.0 211.8,621.3 224.5,627.7 237.2,630.0 246.7,626.5 250.0,622.6 260.0,613.6 270.0,604.0 280.0,600.0Z" fill="#F5E6BE" /><path d="M194.4,616.6 197.5,612.6 202.3,613.4 204.7,618.1 205.5,622.9 202.3,625.3 197.5,626.1 194.1,624.5Z" fill="#DEB887" /><path d="M290.0,599.8 302.3,600.2 318.1,602.6 334.0,604.7 348.8,607.6 361.4,612.3 372.9,619.4 382.1,629.1 385.9,640.4 386.3,650.0 391.3,659.2 400.4,667.2 403.6,679.2 404.5,693.9 403.9,709.7 401.8,726.3 393.9,740.8 386.9,749.2 381.3,760.2 373.7,766.9 361.4,778.6 347.4,783.8 332.5,781.8 319.2,778.3 306.6,773.4 295.5,767.2 284.4,760.8 271.7,761.4 259.0,763.0 246.7,758.1 237.6,754.1 222.9,734.0 223.6,722.0 221.5,714.4 218.2,709.2 215.0,703.4 213.7,695.0 213.5,687.5 210.6,679.0 203.9,668.0 195.7,655.8 192.4,641.8 194.8,631.6 200.0,623.1 212.0,625.2 224.1,631.3 236.8,632.3 246.3,628.7 250.0,624.5 260.0,615.4 270.0,605.7 280.0,601.3Z" fill="#DEB887" /><path d="M290.0,600.4 302.3,600.9 318.1,603.3 334.0,605.6 348.7,608.8 361.0,613.8 372.2,620.9 380.6,629.7 384.6,640.7 385.5,650.0 390.4,659.3 398.8,667.3 402.4,679.3 403.6,693.9 403.1,709.7 400.7,726.2 392.6,740.7 385.6,748.8 379.6,759.7 372.2,766.5 360.2,777.7 346.5,782.4 332.2,780.4 319.2,776.7 306.6,772.1 295.5,766.1 284.4,759.8 271.7,760.2 259.0,761.4 247.0,756.3 238.3,752.4 225.8,734.0 225.8,722.0 223.3,714.3 220.2,709.3 215.9,703.4 215.1,695.0 215.1,687.5 213.3,679.0 207.0,668.0 199.2,655.8 195.1,642.9 196.5,633.6 201.1,626.1 212.2,627.4 223.8,633.5 236.5,633.7 246.0,630.1 250.0,625.7 260.0,616.5 270.0,606.7 280.0,602.1Z" fill="#FFE100" /><path d="M290.0,601.2 302.3,601.7 318.1,604.2 334.0,606.9 348.5,610.4 360.5,615.6 371.3,622.7 378.9,630.5 382.9,641.0 384.4,650.0 389.2,659.5 396.8,667.5 401.0,679.5 402.4,693.9 402.0,709.7 399.3,726.0 390.9,740.5 384.0,748.4 377.5,759.1 370.4,766.0 358.8,776.6 345.3,780.7 331.8,778.7 319.2,774.8 306.6,770.4 295.5,764.8 284.4,758.5 271.7,758.7 259.0,759.4 247.4,754.1 239.3,750.2 229.4,734.0 228.5,722.0 225.6,714.2 222.7,709.4 217.0,703.4 216.8,695.0 217.1,687.5 216.8,679.0 210.8,668.0 203.6,655.8 198.5,644.3 199.2,636.9 203.0,631.2 212.4,631.1 223.5,636.3 236.2,635.4 245.6,631.8 250.0,627.2 260.0,617.9 270.0,608.0 280.0,603.1Z" fill="#FFA500" /><path d="M290.0,601.8 302.3,602.4 318.1,604.9 334.0,607.8 348.4,611.7 360.1,617.0 370.5,624.1 377.4,631.2 381.6,641.3 383.6,650.0 388.3,659.6 395.3,667.6 399.8,679.6 401.5,693.9 401.2,709.7 398.1,725.9 389.6,740.4 382.7,748.0 375.8,758.7 369.0,765.5 357.6,775.7 344.3,779.4 331.4,777.4 319.2,773.2 306.6,769.1 295.5,763.7 284.4,757.4 271.7,757.5 259.0,757.7 247.6,752.4 240.0,748.4 232.4,734.0 230.7,722.0 227.5,714.1 224.7,709.5 217.9,703.4 218.1,695.0 218.8,687.5 219.7,679.0 213.8,668.0 207.2,655.8 201.3,645.5 201.5,639.7 204.7,635.8 212.7,636.1 223.3,638.5 236.0,636.8 245.4,633.1 250.0,628.4 260.0,619.0 270.0,609.1 280.0,603.9Z" fill="#FF4500" /><path d="M290.0,602.3 302.3,602.9 318.1,605.4 334.0,608.6 348.3,612.7 359.8,618.1 370.0,625.2 376.4,631.7 380.6,641.5 383.0,650.0 387.6,659.7 394.1,667.7 398.9,679.7 400.8,693.9 400.6,709.7 397.3,725.8 388.6,740.3 381.7,747.7 374.6,758.3 367.9,765.2 356.7,775.0 343.6,778.4 331.2,776.4 319.2,772.0 306.6,768.1 295.5,762.9 284.4,756.7 271.7,756.7 259.0,756.5 247.8,751.1 240.5,747.1 234.6,734.0 232.3,722.0 228.8,714.0 226.2,709.6 218.6,703.4 219.2,695.0 220.0,687.5 221.8,679.0 216.1,668.0 209.8,655.8 203.3,646.3 203.1,641.5 205.8,638.8 212.8,638.4 223.1,640.2 235.8,637.8 245.2,634.1 250.0,629.3 260.0,619.8 270.0,609.9 280.0,604.5Z" fill="#B22222" /><path d="M290.0,602.7 302.3,603.3 318.1,605.8 334.0,609.2 348.2,613.5 359.5,619.0 369.5,626.1 375.5,632.1 379.8,641.6 382.5,650.0 387.0,659.8 393.1,667.8 398.2,679.8 400.2,693.9 400.1,709.7 396.6,725.8 387.8,740.2 380.9,747.5 373.5,758.0 367.0,765.0 356.0,774.5 343.0,777.5 331.0,775.5 319.2,771.0 306.6,767.3 295.5,762.2 284.4,756.0 271.7,755.9 259.0,755.5 248.0,750.0 241.0,746.0 236.4,734.0 233.7,722.0 230.0,714.0 227.4,709.7 219.2,703.4 220.0,695.0 221.0,687.5 223.5,679.0 218.0,668.0 212.0,655.8 205.0,647.0 204.7,643.5 207.0,642.0 213.0,641.0 222.9,641.6 235.6,638.7 245.0,635.0 250.0,630.0 260.0,620.5 270.0,610.5 280.0,605.0Z" fill="#FFB6C1" /><path d="M290.0,603.5 302.3,604.2 318.1,606.8 334.0,610.5 348.0,615.2 359.0,621.0 368.5,628.1 373.5,633.0 378.0,642.0 381.4,650.0 385.7,660.0 390.9,668.0 396.6,680.0 398.9,693.9 398.9,709.7 395.0,725.6 386.0,740.0 379.1,747.0 369.6,756.2 362.5,762.5 352.2,769.7 339.5,772.8 330.0,771.0 319.2,768.9 306.6,765.5 295.5,760.7 284.4,754.6 271.7,754.3 259.0,752.0 250.0,741.0 246.0,737.5 243.5,733.0 241.0,722.0 238.0,713.0 233.7,708.1 223.4,703.4 222.5,695.0 224.0,687.5 226.0,679.0 220.5,668.0 214.7,655.8 209.0,652.0 206.3,649.0 210.0,648.2 216.0,646.8 226.1,644.3 238.7,640.6 247.0,636.0 250.0,631.4 260.0,622.2 270.0,612.0 280.0,606.3Z" fill="#FF1493" /><path d="M289.6,641.9 292.0,638.0 297.5,636.4 305.5,636.4 313.4,637.2 319.7,638.0 324.5,639.5 330.8,643.0 335.6,647.0 339.5,648.5 342.7,652.7 341.9,659.0 340.3,665.4 338.7,671.7 341.1,678.0 345.8,683.6 352.2,687.5 356.1,692.3 360.9,698.6 362.5,703.4 360.1,708.1 356.9,712.9 353.8,719.2 352.2,725.6 351.4,731.9 350.0,738.0 348.2,741.5 345.8,745.1 342.7,749.1 337.9,752.2 333.2,754.5 324.0,754.6 319.2,752.2 316.1,748.3 315.3,743.5 315.3,740.0 313.7,731.1 310.5,724.0 307.4,717.7 303.4,711.3 298.6,706.6 294.7,701.0 292.0,697.0 288.0,690.0 287.5,686.0 286.8,679.6 287.5,671.7 289.1,663.8 290.7,655.8 289.9,647.9Z" fill="#FFB6C1" /><path d="M292.3,647.9 293.1,655.8 291.5,665.4 289.9,674.9 289.1,682.8 290.0,690.0 295.8,698.6 295.9,699.6 296.0,699.9 296.2,700.2 298.5,702.5 300.2,705.0 305.0,709.7 308.9,716.1 312.1,722.4 313.5,725.8 314.9,730.6 316.5,740.2 316.6,740.6 316.9,740.9 317.2,741.1 317.4,741.2 318.8,746.2 319.0,746.6 319.3,746.8 323.3,750.0 323.6,750.2 323.9,750.3 333.1,751.0 333.7,750.9 339.2,748.6 339.5,748.3 343.5,744.3 343.8,744.0 345.6,740.5 345.7,740.2 346.3,736.9 347.8,729.0 350.1,721.2 353.3,714.2 356.4,708.7 358.7,704.8 358.9,704.4 358.9,703.9 358.1,700.7 358.0,700.5 354.9,694.2 354.8,694.0 350.8,688.4 350.4,688.1 344.3,684.3 339.7,679.0 337.6,674.0 339.1,668.8 339.1,668.8 340.7,662.5 340.7,662.3 341.5,655.2 341.5,654.9 341.3,654.5 338.1,648.9 337.7,648.5 333.0,645.5 332.6,645.3 330.4,644.9 325.1,641.9 324.7,641.8 320.0,640.8 313.7,639.3 313.5,639.3 305.6,638.6 305.5,638.6 300.0,638.6 299.8,638.6 295.8,639.3 295.4,639.5 295.1,639.7 293.8,641.2 293.7,641.4 291.5,640.0 292.3,647.9Z" fill="#B22222" /><path d="M294.7,642.0 296.0,640.5 300.0,639.8 305.5,639.8 313.4,640.5 319.7,642.0 324.5,643.0 330.0,646.0 332.4,646.5 337.1,649.5 340.3,655.1 339.5,662.2 337.9,668.5 336.3,674.1 338.7,679.6 343.5,685.2 349.8,689.1 353.8,694.7 356.9,701.0 357.7,704.2 355.4,708.1 352.2,713.7 349.0,720.8 346.6,728.7 345.1,736.7 344.5,740.0 342.7,743.5 338.7,747.5 333.2,749.8 324.0,749.1 320.0,745.9 318.4,740.3 317.7,740.0 316.1,730.3 313.7,722.4 310.5,716.1 306.6,709.7 301.8,704.2 297.1,699.4 296.3,693.9 297.1,687.5 299.4,682.8 301.0,676.5 301.0,670.1 299.4,662.2 297.1,654.3 295.5,646.3Z" fill="#FF4500" /><path d="M297.8,642.4 303.4,643.2 311.3,644.8 319.2,646.3 327.2,645.5 331.9,647.1 335.1,652.7 335.9,659.0 334.3,665.4 335.1,671.7 336.7,679.6 337.5,687.5 336.7,695.5 335.1,703.4 335.9,711.3 335.1,714.5 328.7,715.3 323.2,714.5 321.6,709.7 319.2,705.0 314.5,700.2 310.5,696.3 308.1,691.5 309.7,686.8 313.7,682.0 315.3,677.2 314.5,671.7 311.3,666.9 306.6,662.2 302.6,657.4 299.9,651.9 298.3,646.3Z" fill="#FFA500" /><path d="M326.4,738.8 328.7,735.6 331.9,736.4 331.1,740.3 328.0,741.9Z" fill="#FFA500" /><line x1="288.6" y1="553" x2="288.6" y2="598" stroke="#a6d65a" stroke-width="0.6" opacity="0.6"/></g><use href="#coast" transform="translate(-147.60000000000002,448.70000000000005)"/><circle cx="288.5" cy="692.7" r="8.2" fill="#fff"/><circle cx="288.5" cy="692.7" r="139.7" fill="none" stroke="#222" stroke-width="1"/>
<rect x="5.20" y="423.4" width="16.96" height="14.1" fill="#9370DB" stroke="#222" stroke-width="0.7"/><rect x="22.16" y="423.4" width="16.96" height="14.1" fill="#0000CD" stroke="#222" stroke-width="0.7"/><rect x="39.12" y="423.4" width="16.96" height="14.1" fill="#4169E1" stroke="#222" stroke-width="0.7"/><rect x="56.08" y="423.4" width="16.96" height="14.1" fill="#7799F0" stroke="#222" stroke-width="0.7"/><rect x="73.04" y="423.4" width="16.96" height="14.1" fill="#B0E0E6" stroke="#222" stroke-width="0.7"/><rect x="90.00" y="423.4" width="16.96" height="14.1" fill="#20B2AA" stroke="#222" stroke-width="0.7"/><rect x="106.96" y="423.4" width="16.96" height="14.1" fill="#BEF064" stroke="#222" stroke-width="0.7"/><rect x="123.92" y="423.4" width="16.96" height="14.1" fill="#96BE32" stroke="#222" stroke-width="0.7"/><rect x="140.88" y="423.4" width="16.96" height="14.1" fill="#F5E6BE" stroke="#222" stroke-width="0.7"/><rect x="157.84" y="423.4" width="16.96" height="14.1" fill="#DEB887" stroke="#222" stroke-width="0.7"/><rect x="174.80" y="423.4" width="16.96" height="14.1" fill="#FFE100" stroke="#222" stroke-width="0.7"/><rect x="191.76" y="423.4" width="16.96" height="14.1" fill="#FFA500" stroke="#222" stroke-width="0.7"/><rect x="208.72" y="423.4" width="16.96" height="14.1" fill="#FF4500" stroke="#222" stroke-width="0.7"/><rect x="225.68" y="423.4" width="16.96" height="14.1" fill="#B22222" stroke="#222" stroke-width="0.7"/><rect x="242.64" y="423.4" width="16.96" height="14.1" fill="#FFB6C1" stroke="#222" stroke-width="0.7"/><rect x="259.60" y="423.4" width="16.96" height="14.1" fill="#FF1493" stroke="#222" stroke-width="0.7"/><text x="22.2" y="453" class="lab" text-anchor="middle">0</text><text x="56.1" y="453" class="lab" text-anchor="middle">50</text><text x="90.0" y="453" class="lab" text-anchor="middle">100</text><text x="123.9" y="453" class="lab" text-anchor="middle">150</text><text x="157.8" y="453" class="lab" text-anchor="middle">200</text><text x="191.8" y="453" class="lab" text-anchor="middle">240</text><text x="225.7" y="453" class="lab" text-anchor="middle">280</text><text x="259.6" y="453" class="lab" text-anchor="middle">320</text>
<rect x="300.30" y="423.4" width="16.96" height="14.1" fill="#9370DB" stroke="#222" stroke-width="0.7"/><rect x="317.26" y="423.4" width="16.96" height="14.1" fill="#0000CD" stroke="#222" stroke-width="0.7"/><rect x="334.22" y="423.4" width="16.96" height="14.1" fill="#4169E1" stroke="#222" stroke-width="0.7"/><rect x="351.18" y="423.4" width="16.96" height="14.1" fill="#7799F0" stroke="#222" stroke-width="0.7"/><rect x="368.14" y="423.4" width="16.96" height="14.1" fill="#B0E0E6" stroke="#222" stroke-width="0.7"/><rect x="385.10" y="423.4" width="16.96" height="14.1" fill="#20B2AA" stroke="#222" stroke-width="0.7"/><rect x="402.06" y="423.4" width="16.96" height="14.1" fill="#BEF064" stroke="#222" stroke-width="0.7"/><rect x="419.02" y="423.4" width="16.96" height="14.1" fill="#96BE32" stroke="#222" stroke-width="0.7"/><rect x="435.98" y="423.4" width="16.96" height="14.1" fill="#F5E6BE" stroke="#222" stroke-width="0.7"/><rect x="452.94" y="423.4" width="16.96" height="14.1" fill="#DEB887" stroke="#222" stroke-width="0.7"/><rect x="469.90" y="423.4" width="16.96" height="14.1" fill="#FFE100" stroke="#222" stroke-width="0.7"/><rect x="486.86" y="423.4" width="16.96" height="14.1" fill="#FFA500" stroke="#222" stroke-width="0.7"/><rect x="503.82" y="423.4" width="16.96" height="14.1" fill="#FF4500" stroke="#222" stroke-width="0.7"/><rect x="520.78" y="423.4" width="16.96" height="14.1" fill="#B22222" stroke="#222" stroke-width="0.7"/><rect x="537.74" y="423.4" width="16.96" height="14.1" fill="#FFB6C1" stroke="#222" stroke-width="0.7"/><rect x="554.70" y="423.4" width="16.96" height="14.1" fill="#FF1493" stroke="#222" stroke-width="0.7"/><text x="317.3" y="453" class="lab" text-anchor="middle">0</text><text x="351.2" y="453" class="lab" text-anchor="middle">50</text><text x="385.1" y="453" class="lab" text-anchor="middle">100</text><text x="419.0" y="453" class="lab" text-anchor="middle">150</text><text x="452.9" y="453" class="lab" text-anchor="middle">200</text><text x="486.9" y="453" class="lab" text-anchor="middle">240</text><text x="520.8" y="453" class="lab" text-anchor="middle">280</text><text x="554.7" y="453" class="lab" text-anchor="middle">320</text>
<rect x="507.1" y="605.40" width="34.4" height="14.03" fill="#FF1493" stroke="#222" stroke-width="0.7"/><rect x="507.1" y="619.43" width="34.4" height="14.03" fill="#FFB6C1" stroke="#222" stroke-width="0.7"/><rect x="507.1" y="633.46" width="34.4" height="14.03" fill="#B22222" stroke="#222" stroke-width="0.7"/><rect x="507.1" y="647.49" width="34.4" height="14.03" fill="#FF4500" stroke="#222" stroke-width="0.7"/><rect x="507.1" y="661.52" width="34.4" height="14.03" fill="#FFA500" stroke="#222" stroke-width="0.7"/><rect x="507.1" y="675.55" width="34.4" height="14.03" fill="#FFE100" stroke="#222" stroke-width="0.7"/><rect x="507.1" y="689.58" width="34.4" height="14.03" fill="#DEB887" stroke="#222" stroke-width="0.7"/><rect x="507.1" y="703.61" width="34.4" height="14.03" fill="#F5E6BE" stroke="#222" stroke-width="0.7"/><rect x="507.1" y="717.64" width="34.4" height="14.03" fill="#96BE32" stroke="#222" stroke-width="0.7"/><rect x="507.1" y="731.67" width="34.4" height="14.03" fill="#BEF064" stroke="#222" stroke-width="0.7"/><rect x="507.1" y="745.70" width="34.4" height="14.03" fill="#20B2AA" stroke="#222" stroke-width="0.7"/><rect x="507.1" y="759.73" width="34.4" height="14.03" fill="#B0E0E6" stroke="#222" stroke-width="0.7"/><rect x="507.1" y="773.76" width="34.4" height="14.03" fill="#7799F0" stroke="#222" stroke-width="0.7"/><rect x="507.1" y="787.79" width="34.4" height="14.03" fill="#4169E1" stroke="#222" stroke-width="0.7"/><rect x="507.1" y="801.82" width="34.4" height="14.03" fill="#0000CD" stroke="#222" stroke-width="0.7"/><rect x="507.1" y="815.85" width="34.4" height="14.03" fill="#9370DB" stroke="#222" stroke-width="0.7"/><text x="557.2" y="623.7" class="lab" text-anchor="middle">40</text><text x="557.2" y="637.8" class="lab" text-anchor="middle">30</text><text x="557.2" y="651.8" class="lab" text-anchor="middle">25</text><text x="557.2" y="665.8" class="lab" text-anchor="middle">20</text><text x="557.2" y="679.8" class="lab" text-anchor="middle">15</text><text x="557.2" y="693.9" class="lab" text-anchor="middle">10</text><text x="557.2" y="707.9" class="lab" text-anchor="middle">5</text><text x="557.2" y="721.9" class="lab" text-anchor="middle">0</text><text x="557.2" y="736.0" class="lab" text-anchor="middle">−5</text><text x="557.2" y="750.0" class="lab" text-anchor="middle">−10</text><text x="557.2" y="764.0" class="lab" text-anchor="middle">−15</text><text x="557.2" y="778.1" class="lab" text-anchor="middle">−20</text><text x="557.2" y="792.1" class="lab" text-anchor="middle">−25</text><text x="557.2" y="806.1" class="lab" text-anchor="middle">−30</text><text x="557.2" y="820.1" class="lab" text-anchor="middle">−40</text>
</svg>
</body></html>
